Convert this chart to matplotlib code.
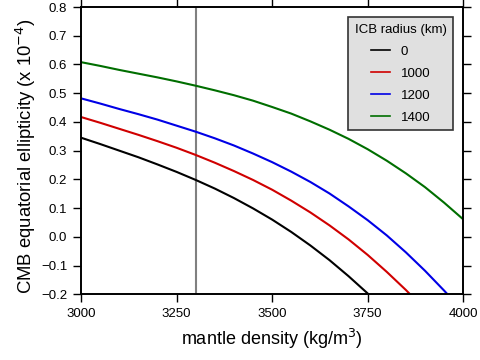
import numpy as np
import matplotlib
matplotlib.use("Agg")
import matplotlib.pyplot as plt

plt.rcParams["font.family"] = ["Liberation Sans", "DejaVu Sans"]

# densidad del manto (kg/m3)
dens = [3000, 3050, 3100, 3150, 3200, 3250, 3300, 3350, 3400, 3450, 3500,
        3550, 3600, 3650, 3700, 3750, 3800, 3850, 3900, 3950, 4000]

# elipticidad ecuatorial del CMB (x 1e-4)
elip_0 = [0.345, 0.323, 0.300, 0.277, 0.252, 0.226, 0.198, 0.168, 0.135, 0.099,
          0.060, 0.017, -0.030, -0.081, -0.137, -0.197]
elip_1000 = [0.417, 0.397, 0.376, 0.355, 0.333, 0.310, 0.285, 0.258, 0.229, 0.198,
             0.164, 0.126, 0.085, 0.040, -0.009, -0.063, -0.122, -0.185]
elip_1200 = [0.482, 0.464, 0.445, 0.427, 0.408, 0.387, 0.366, 0.343, 0.318, 0.290,
             0.260, 0.227, 0.191, 0.151, 0.106, 0.058, 0.005, -0.054, -0.118, -0.187]
elip_1400 = [0.608, 0.595, 0.581, 0.568, 0.555, 0.541, 0.526, 0.510, 0.493, 0.474,
             0.452, 0.429, 0.402, 0.373, 0.341, 0.305, 0.265, 0.221, 0.173, 0.119, 0.061]

# puntos finales donde las curvas cortan el borde inferior
fin_x = {"0": 3752, "1000": 3861, "1200": 3959}

series = [("0", elip_0, "black"),
          ("1000", elip_1000, "#d00000"),
          ("1200", elip_1200, "#0000e6"),
          ("1400", elip_1400, "#006e00")]

fig = plt.figure(figsize=(4.8, 3.6), dpi=100)
ax = fig.add_axes([0.169, 0.1825, 0.796, 0.798])

ax.axvline(3300, color="#808080", linewidth=1.5, zorder=1)

for nombre, vals, color in series:
    x = list(dens[:len(vals)])
    y = list(vals)
    if nombre in fin_x:
        x.append(fin_x[nombre])
        y.append(-0.2)
    ax.plot(x, y, color=color, linewidth=1.5, label=nombre, zorder=2)

ax.set_xlim(3000, 4000)
ax.set_ylim(-0.2, 0.8)
ax.set_xticks([3000, 3250, 3500, 3750, 4000])
ax.set_yticks(np.arange(-0.2, 0.81, 0.1))
ax.set_yticklabels(["\u22120.2", "\u22120.1", "0.0", "0.1", "0.2", "0.3",
                    "0.4", "0.5", "0.6", "0.7", "0.8"])

ax.tick_params(direction="out", length=6, width=1.0, labelsize=9.5, pad=4,
               top=True, right=True, labeltop=False, labelright=False)
for sp in ax.spines.values():
    sp.set_linewidth(1.4)

ax.set_xlabel("mantle density (kg/m$^3$)", fontsize=13, labelpad=5)
ax.set_ylabel("CMB equatorial ellipticity (x 10$^{-4}$)", fontsize=13.3)
ax.yaxis.set_label_coords(-0.112, 0.48)

leg = ax.legend(title="ICB radius (km)", loc="upper right", fontsize=9.5,
                title_fontsize=9.5, fancybox=False, framealpha=1,
                facecolor="#e0e0e0", edgecolor="#333333", handlelength=1.4,
                borderaxespad=0.75, labelspacing=0.74, borderpad=0.5)
leg.get_frame().set_linewidth(1.2)
for h in leg.get_lines():
    h.set_linewidth(1.2)

fig.savefig("out.png", dpi=100)
